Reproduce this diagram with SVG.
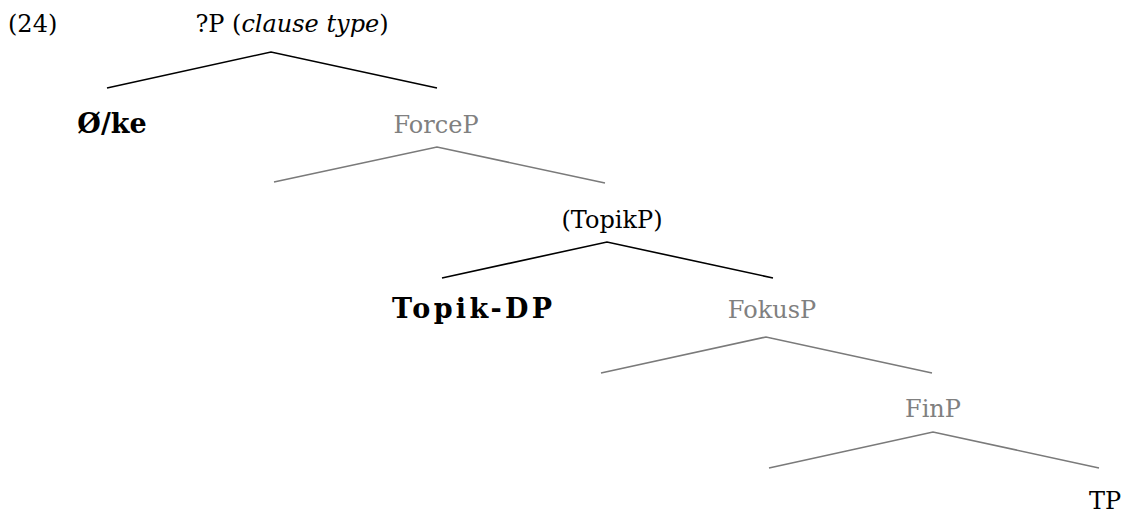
<svg xmlns="http://www.w3.org/2000/svg" width="1128" height="513" viewBox="0 0 1128 513">
  <style>
    text { font-family: "DejaVu Serif", "Liberation Serif", serif; font-size: 24px; fill: #000; }
    .mid { text-anchor: middle; }
    .gray { fill: #808080; }
    .bold { font-weight: bold; font-size: 27px; }
    .it { font-style: italic; }
    .edge { fill: none; stroke-width: 1.6; stroke-linecap: butt; stroke-linejoin: miter; }
    .edge-b { stroke: #000; }
    .edge-g { stroke: #7a7a7a; }
  </style>
  <rect width="1128" height="513" fill="#fff"/>
  <g id="connectors">
    <polyline class="edge edge-b" points="107,88 271,52 437,88"/>
    <polyline class="edge edge-g" points="274,182 437,147 605,183"/>
    <polyline class="edge edge-b" points="442,278 607,242 773,278"/>
    <polyline class="edge edge-g" points="601,373 766,337 932,373"/>
    <polyline class="edge edge-g" points="769,468 933,432 1099,468"/>
  </g>
  <g id="label-24"><text x="8" y="32">(24)</text></g>
  <g id="node-qP"><text class="mid" x="292" y="32">?P (<tspan class="it">clause type</tspan>)</text></g>
  <g id="node-ke"><text class="bold mid" x="112" y="133">Ø/ke</text></g>
  <g id="node-ForceP"><text class="mid gray" x="436" y="133">ForceP</text></g>
  <g id="node-TopikP"><text class="mid" x="612" y="228">(TopikP)</text></g>
  <g id="node-TopikDP"><text class="bold" x="392" y="318" textLength="160" lengthAdjust="spacing">Topik-DP</text></g>
  <g id="node-FokusP"><text class="mid gray" x="772" y="318">FokusP</text></g>
  <g id="node-FinP"><text class="mid gray" x="933" y="417">FinP</text></g>
  <g id="node-TP"><text class="mid" x="1105" y="509">TP</text></g>
</svg>
